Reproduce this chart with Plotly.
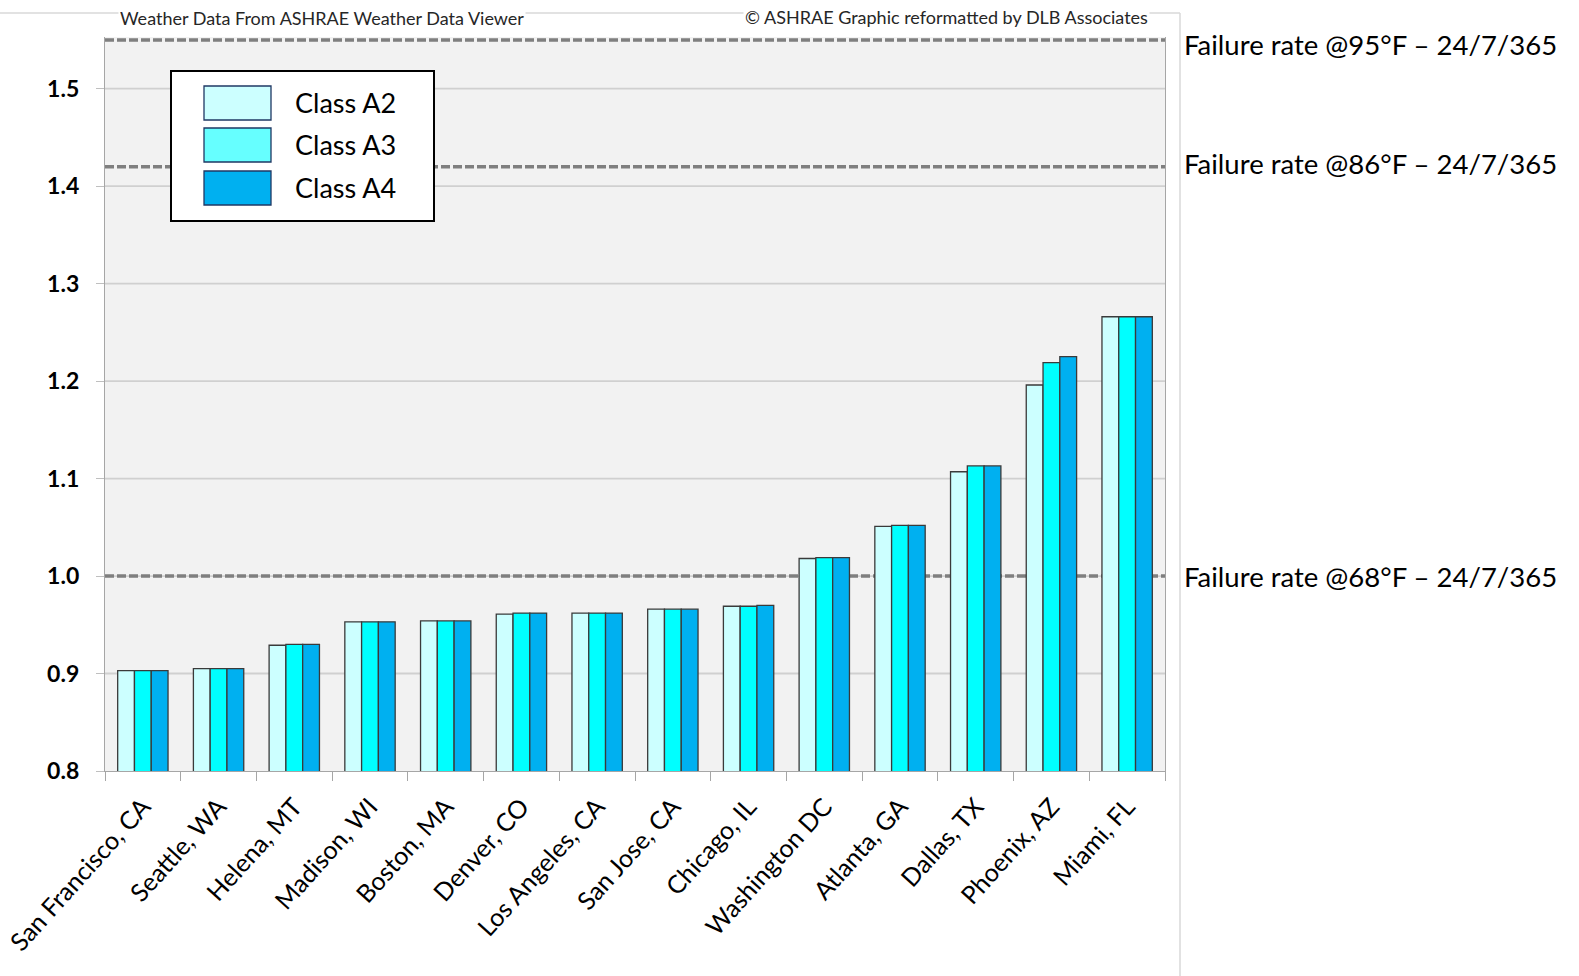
import plotly.graph_objects as go

# Failure-rate multipliers (X-factor) by city for each ASHRAE class
cities = [
    "San Francisco, CA", "Seattle, WA", "Helena, MT", "Madison, WI", "Boston, MA",
    "Denver, CO", "Los Angeles, CA", "San Jose, CA", "Chicago, IL", "Washington DC",
    "Atlanta, GA", "Dallas, TX", "Phoenix, AZ", "Miami, FL",
]
class_a2 = [0.903, 0.905, 0.929, 0.953, 0.954, 0.961, 0.962, 0.966, 0.969, 1.018, 1.051, 1.107, 1.196, 1.266]
class_a3 = [0.903, 0.905, 0.930, 0.953, 0.954, 0.962, 0.962, 0.966, 0.969, 1.019, 1.052, 1.113, 1.219, 1.266]
class_a4 = [0.903, 0.905, 0.930, 0.953, 0.954, 0.962, 0.962, 0.966, 0.970, 1.019, 1.052, 1.113, 1.225, 1.266]

series_names = ["Class A2", "Class A3", "Class A4"]
bar_colors = ["#CCFFFF", "#00FFFF", "#00B0F0"]
legend_colors = ["#CCFFFF", "#66FFFF", "#00B0F0"]

# Continuous-operation reference failure rates
ref_values = [1.55, 1.42, 1.0]
ref_labels = [
    "Failure rate @95°F – 24/7/365",
    "Failure rate @86°F – 24/7/365",
    "Failure rate @68°F – 24/7/365",
]

y_ticks = [0.8, 0.9, 1.0, 1.1, 1.2, 1.3, 1.4, 1.5]
y_range = [0.8, 1.553]

FONT = "Lato, 'Open Sans', sans-serif"
W, H = 1579, 976
ML, MR, MT, MB = 105, 414, 37, 205
PW, PH = W - ML - MR, H - MT - MB


def px(x):
    """Page pixel x -> paper x."""
    return (x - ML) / PW


def py(y):
    """Page pixel y -> paper y."""
    return (H - MB - y) / PH


fig = go.Figure()
for name, vals, col in zip(series_names, [class_a2, class_a3, class_a4], bar_colors):
    fig.add_trace(go.Bar(
        x=cities, y=vals, name=name,
        marker=dict(color=col, line=dict(color="#3A3A3A", width=1.3)),
        showlegend=False,
    ))

shapes = []
annotations = []

# horizontal gridlines, kept under the reference lines and the bars
for t in y_ticks[1:]:
    shapes.append(dict(
        type="line", xref="paper", yref="y", x0=0, x1=1, y0=t, y1=t,
        line=dict(color="#D0D0D0", width=1.8), layer="below",
    ))

# dashed reference lines and their labels on the right
label_shift = [-5, 3, 0]
for v, lab, dy in zip(ref_values, ref_labels, label_shift):
    shapes.append(dict(
        type="line", xref="paper", yref="y", x0=0, x1=1, y0=v, y1=v,
        line=dict(color="#7F7F7F", width=3.5, dash="9px,3px"), layer="below",
    ))
    annotations.append(dict(
        text=lab, xref="paper", yref="y", x=px(1182), y=v,
        xanchor="left", yanchor="middle", showarrow=False, yshift=dy,
        font=dict(family=FONT, size=27.5, color="#000000"),
    ))

# outer chart frame (top and right edges)
shapes.append(dict(type="line", xref="paper", yref="paper",
                   x0=px(0), x1=px(1180), y0=py(13), y1=py(13),
                   line=dict(color="#D9D9D9", width=1.5), layer="below"))
shapes.append(dict(type="line", xref="paper", yref="paper",
                   x0=px(1180), x1=px(1180), y0=py(13), y1=py(976),
                   line=dict(color="#D9D9D9", width=1.5), layer="below"))

# header notes
annotations.append(dict(
    text="Weather Data From ASHRAE Weather Data Viewer", xref="paper", yref="paper",
    x=px(322), y=py(18), xanchor="center", yanchor="middle", showarrow=False,
    bgcolor="#FFFFFF", font=dict(family=FONT, size=18, color="#262626"),
))
annotations.append(dict(
    text="© ASHRAE Graphic reformatted by DLB Associates", xref="paper", yref="paper",
    x=px(1150), y=py(17), xanchor="right", yanchor="middle", showarrow=False,
    bgcolor="#FFFFFF", font=dict(family=FONT, size=18, color="#262626"),
))

# legend box with large swatches
shapes.append(dict(type="rect", xref="paper", yref="paper",
                   x0=px(171), x1=px(434), y0=py(221), y1=py(71),
                   fillcolor="#FFFFFF", line=dict(color="#000000", width=2), layer="above"))
row_tops = [86, 128, 171]
for top, name, col in zip(row_tops, series_names, legend_colors):
    shapes.append(dict(type="rect", xref="paper", yref="paper",
                       x0=px(204), x1=px(271), y0=py(top + 34), y1=py(top),
                       fillcolor=col, line=dict(color="#1F3864", width=1.3), layer="above"))
    annotations.append(dict(
        text=name, xref="paper", yref="paper", x=px(293), y=py(top + 16),
        xanchor="left", yanchor="middle", showarrow=False,
        font=dict(family=FONT, size=27, color="#000000"),
    ))

fig.update_layout(
    width=W, height=H,
    margin=dict(l=ML, r=MR, t=MT, b=MB, pad=0, autoexpand=False),
    paper_bgcolor="#FFFFFF", plot_bgcolor="#F2F2F2",
    barmode="group", bargap=0.335, bargroupgap=0,
    shapes=shapes, annotations=annotations,
    font=dict(family=FONT, color="#000000"),
    showlegend=False,
)
fig.update_xaxes(
    type="category", tickangle=-48, tickson="boundaries", automargin=False,
    ticks="outside", ticklen=9, tickcolor="#A6A6A6", tickwidth=1.3,
    showline=True, linecolor="#A6A6A6", linewidth=1.3,
    showgrid=False, ticklabelstandoff=10,
    tickfont=dict(family=FONT, size=25, color="#000000"),
)
fig.update_yaxes(
    range=y_range, tickvals=y_ticks, tickformat=".1f", automargin=False,
    ticks="outside", ticklen=8, tickcolor="#BFBFBF", tickwidth=1.3,
    showline=True, mirror=True, linecolor="#A6A6A6", linewidth=1.3,
    showgrid=False, zeroline=False,
    ticklabelstandoff=12,
    tickfont=dict(family=FONT, size=23, color="#000000", weight="bold"),
)

fig.write_html("out.html")
